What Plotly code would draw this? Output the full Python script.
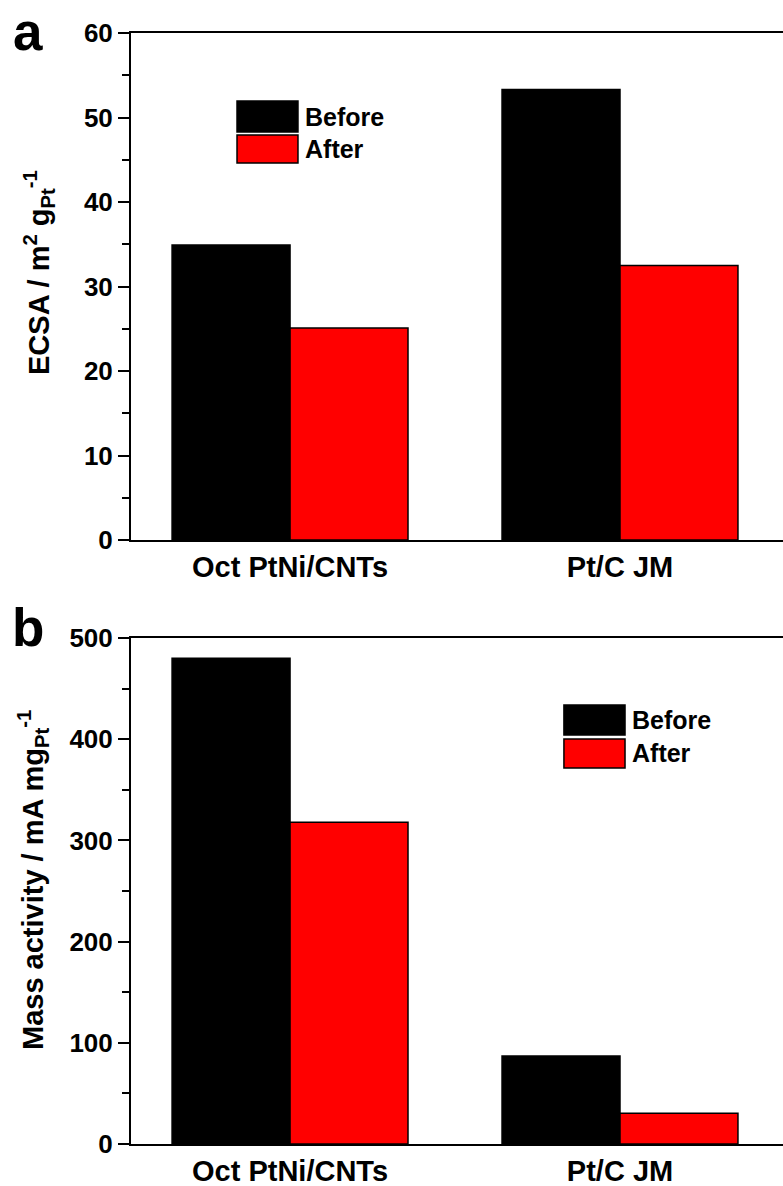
import plotly.graph_objects as go

categories = ["Oct PtNi/CNTs", "Pt/C JM"]
ecsa_before = [34.9, 53.3]
ecsa_after = [25.1, 32.5]
mass_before = [480, 87]
mass_after = [318, 30.5]
series_names = ["Before", "After"]
series_colors = ["#000000", "#ff0000"]

FONT = "Arial, Liberation Sans, sans-serif"
W, H = 783, 1186
L = 131
PW = W - L

fig = go.Figure()
for name, color, vals in zip(series_names, series_colors, [ecsa_before, ecsa_after]):
    fig.add_trace(go.Bar(x=categories, y=vals, name=name, marker=dict(color=color, line=dict(color="black", width=1.5)),
                         xaxis="x", yaxis="y", showlegend=False))
for name, color, vals in zip(series_names, series_colors, [mass_before, mass_after]):
    fig.add_trace(go.Bar(x=categories, y=vals, name=name, marker=dict(color=color, line=dict(color="black", width=1.5)),
                         xaxis="x2", yaxis="y2", showlegend=False))

def py(p):
    return 1 - p / H

def px(p):
    return (p - L) / PW

xcommon = dict(range=[-0.482, 1.494], domain=[0, 1], showline=True, linecolor="black", linewidth=2,
               mirror=True, ticks="", tickfont=dict(family=FONT, size=29, color="black", weight="bold"),
               showgrid=False, zeroline=False, fixedrange=True)
ycommon = dict(showline=True, linecolor="black", linewidth=2, mirror=False, ticks="outside", ticklen=11,
               tickwidth=2, tickcolor="black", tickfont=dict(family=FONT, size=26, color="black", weight="bold"),
               showgrid=False, zeroline=False)

fig.update_layout(
    width=W, height=H, margin=dict(l=L, r=0, t=0, b=0, autoexpand=False),
    paper_bgcolor="white", plot_bgcolor="white",
    barmode="group", bargap=0.285, bargroupgap=0,
    xaxis=dict(**xcommon, anchor="y"),
    yaxis=dict(**ycommon, domain=[py(540), py(33)], range=[0, 60], dtick=10, anchor="x",
               minor=dict(dtick=5, ticks="outside", ticklen=7, tickwidth=2, tickcolor="black")),
    xaxis2=dict(**xcommon, anchor="y2"),
    yaxis2=dict(**ycommon, domain=[py(1144), py(638)], range=[0, 500], dtick=100, anchor="x2",
                minor=dict(dtick=50, ticks="outside", ticklen=7, tickwidth=2, tickcolor="black")),
    showlegend=False,
)

# custom legends
def legend(xref, yref, bx0, bx1, boxes, tx):
    for (y0, y1), color, name in zip(boxes, series_colors, series_names):
        fig.add_shape(type="rect", xref=xref, yref=yref, x0=bx0, x1=bx1, y0=y0, y1=y1,
                      fillcolor=color, line=dict(color="black", width=1.5))
        fig.add_annotation(xref=xref, yref=yref, x=tx, y=(y0 + y1) / 2, text=name, showarrow=False,
                           xanchor="left", yanchor="middle",
                           font=dict(family=FONT, size=25, color="black", weight="bold"))

legend("x domain", "y domain", 0.1626, 0.2561, [(0.8047, 0.8659), (0.7436, 0.7988)], 0.2639)
legend("x2 domain", "y2 domain", 0.664, 0.7577, [(0.8083, 0.8676), (0.7431, 0.8004)], 0.7654)

# panel labels
fig.add_annotation(xref="paper", yref="paper", x=px(28), y=py(32), text="a", showarrow=False,
                   xanchor="center", yanchor="middle",
                   font=dict(family=FONT, size=53, color="black", weight="bold"))
fig.add_annotation(xref="paper", yref="paper", x=px(28), y=py(627), text="b", showarrow=False,
                   xanchor="center", yanchor="middle",
                   font=dict(family=FONT, size=53, color="black", weight="bold"))

# y titles
fig.add_annotation(xref="paper", yref="paper", x=px(39), y=py(273), textangle=-90, showarrow=False,
                   xanchor="center", yanchor="middle",
                   text="ECSA / m<sup>2</sup> g<sub>Pt</sub><sup>-1</sup>",
                   font=dict(family=FONT, size=29, color="black", weight="bold"))
fig.add_annotation(xref="paper", yref="paper", x=px(33), y=py(880), textangle=-90, showarrow=False,
                   xanchor="center", yanchor="middle",
                   text="Mass activity / mA mg<sub>Pt</sub><sup>-1</sup>",
                   font=dict(family=FONT, size=29, color="black", weight="bold"))

fig.write_html("out.html")
